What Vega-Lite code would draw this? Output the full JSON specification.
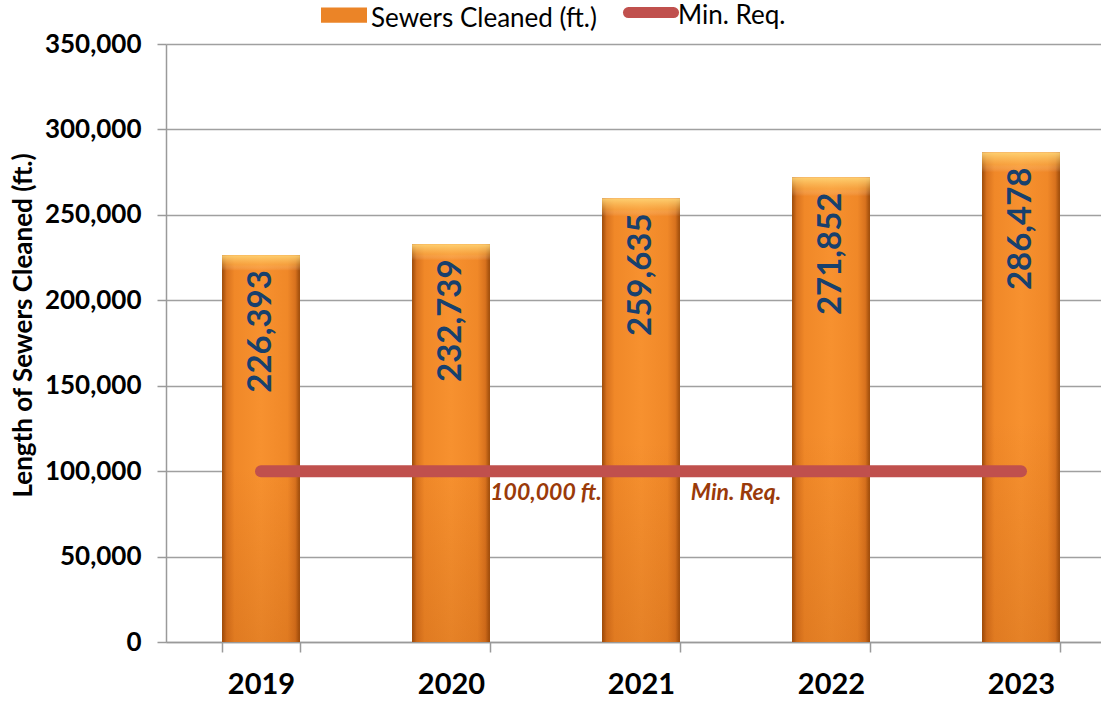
{
  "$schema": "https://vega.github.io/schema/vega-lite/v6.json",
  "width": 950,
  "height": 598,
  "autosize": {"type": "none"},
  "padding": {"left": 166, "top": 44, "right": 0, "bottom": 62},
  "background": "white",
  "config": {"view": {"stroke": null}, "font": "Lato"},
  "data": {
    "values": [
      {"year": "2019", "cleaned": 226393, "minreq": 100000},
      {"year": "2020", "cleaned": 232739, "minreq": 100000},
      {"year": "2021", "cleaned": 259635, "minreq": 100000},
      {"year": "2022", "cleaned": 271852, "minreq": 100000},
      {"year": "2023", "cleaned": 286478, "minreq": 100000}
    ]
  },
  "encoding": {
    "x": {
      "field": "year",
      "type": "ordinal",
      "scale": {"paddingInner": 0.59, "paddingOuter": 0.295},
      "axis": {
        "title": null,
        "labelAngle": 0,
        "labelFontSize": 29,
        "labelFontWeight": "bold",
        "labelColor": "black",
        "labelPadding": 18,
        "tickSize": 10,
        "tickBand": "extent",
        "tickColor": "#9A9A9A",
        "tickWidth": 1.5,
        "domainColor": "#9A9A9A",
        "domainWidth": 1.5,
        "grid": false
      }
    }
  },
  "layer": [
    {
      "mark": {"type": "bar"},
      "encoding": {
        "y": {
          "field": "cleaned",
          "type": "quantitative",
          "scale": {"domain": [0, 350000]},
          "axis": {
            "title": "Length of  Sewers Cleaned (ft.)",
            "values": [0, 50000, 100000, 150000, 200000, 250000, 300000, 350000],
            "format": ",.0f",
            "labelFontSize": 26,
            "labelFontWeight": "bold",
            "labelColor": "black",
            "labelPadding": 16,
            "tickSize": 9,
            "tickColor": "#9A9A9A",
            "tickWidth": 1.5,
            "gridColor": "#A0A0A0",
            "gridWidth": 1.5,
            "domainColor": "#9A9A9A",
            "domainWidth": 1.5,
            "titleFontSize": 26,
            "titleFontWeight": "bold",
            "titleColor": "black",
            "titleAngle": 270,
            "titleAlign": "center",
            "titleBaseline": "middle",
            "titleX": -143,
            "titleY": 281
          }
        },
        "color": {
          "datum": "Sewers Cleaned (ft.)",
          "type": "nominal",
          "scale": {"domain": ["Sewers Cleaned (ft.)", "Min. Req."], "range": ["#EB8427", "#C0504D"]},
          "legend": {
            "title": null,
            "orient": "none",
            "direction": "horizontal",
            "legendX": 165,
            "legendY": -41,
            "labelFontSize": 26,
            "labelFont": "Lato",
            "labelColor": "black",
            "labelLimit": 400,
            "labelOffset": 14,
            "columnPadding": 9,
            "symbolSize": 2116,
            "encode": {
              "symbols": {
                "update": {
                  "shape": {"signal": "datum.value === 'Min. Req.' ? 'M-0.98,-0.17H0.98' : 'M-1,-0.5H1V0.16H-1Z'"},
                  "strokeWidth": {"signal": "datum.value === 'Min. Req.' ? 11 : 0"},
                  "strokeCap": {"value": "round"},
                  "fill": {"signal": "datum.value === 'Min. Req.' ? 'transparent' : '#EB8427'"},
                  "stroke": {"signal": "datum.value === 'Min. Req.' ? '#C0504D' : 'transparent'"},
                  "size": {"value": 2116},
                  "opacity": {"value": 1}
                }
              }
            }
          }
        }
      }
    },
    {
      "mark": {
        "type": "bar",
        "color": {
          "gradient": "linear",
          "x1": 0, "x2": 1, "y1": 0, "y2": 0,
          "stops": [
            {"offset": 0, "color": "#9A4A0A"},
            {"offset": 0.06, "color": "#D8721E"},
            {"offset": 0.16, "color": "#F08828"},
            {"offset": 0.5, "color": "#F7912F"},
            {"offset": 0.84, "color": "#F08828"},
            {"offset": 0.94, "color": "#D8721E"},
            {"offset": 1, "color": "#9A4A0A"}
          ]
        }
      },
      "encoding": {"y": {"field": "cleaned", "type": "quantitative"}}
    },
    {
      "mark": {
        "type": "bar",
        "color": {
          "gradient": "linear",
          "x1": 0, "x2": 0, "y1": 0, "y2": 1,
          "stops": [
            {"offset": 0, "color": "rgba(255,215,120,0.9)"},
            {"offset": 0.025, "color": "rgba(255,200,100,0.35)"},
            {"offset": 0.04, "color": "rgba(255,255,255,0)"},
            {"offset": 0.55, "color": "rgba(150,60,0,0)"},
            {"offset": 1, "color": "rgba(150,60,0,0.18)"}
          ]
        }
      },
      "encoding": {"y": {"field": "cleaned", "type": "quantitative"}}
    },
    {
      "mark": {"type": "line", "strokeWidth": 12, "strokeCap": "round"},
      "encoding": {
        "y": {"field": "minreq", "type": "quantitative"},
        "color": {"datum": "Min. Req.", "type": "nominal"}
      }
    },
    {
      "mark": {
        "type": "text",
        "angle": 270,
        "align": "right",
        "baseline": "middle",
        "dx": -15,
        "fontSize": 33,
        "fontWeight": "bold",
        "color": "#17406D"
      },
      "encoding": {
        "y": {"field": "cleaned", "type": "quantitative"},
        "text": {"field": "cleaned", "type": "quantitative", "format": ","}
      }
    },
    {
      "data": {
        "values": [
          {"year": "2021", "label": "100,000 ft.", "value": 100000},
          {"year": "2022", "label": "Min. Req.", "value": 100000}
        ]
      },
      "mark": {
        "type": "text",
        "align": "center",
        "baseline": "middle",
        "dx": -95,
        "dy": 22,
        "fontSize": 23,
        "fontWeight": "bold",
        "fontStyle": "italic",
        "color": "#9A3A0A"
      },
      "encoding": {
        "y": {"field": "value", "type": "quantitative"},
        "text": {"field": "label"}
      }
    }
  ]
}
